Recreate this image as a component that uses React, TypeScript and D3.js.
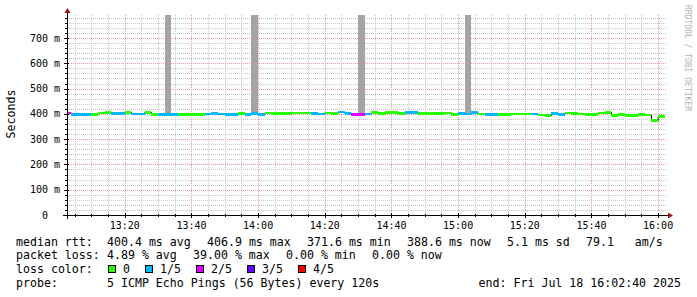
import React from 'react';
import * as d3 from 'd3';

// ---- data (minutes after 13:00; one sample every 2 minutes) ----
const medianMs = [
  403.5, 398, 398, 398, 397, 403, 405.5, 401, 401, 405.5,
  400, 400, 405.5, 397, 398.5, 398.5, 398, 398, 398, 398,
  397, 400, 401, 399, 398, 398.5, 402, 398.5, 401, 398,
  403, 401, 401, 402, 403, 403, 403, 401, 399, 403,
  401, 406.9, 402, 398, 398, 399, 405, 401, 405, 405,
  402, 405, 405, 402, 402, 401, 402, 404, 398, 402,
  400, 405, 400, 398, 398, 398, 397, 400, 400, 400,
  400, 395, 393, 402, 398, 403, 401, 399, 398, 398,
  403, 405, 393, 398, 393, 393, 398, 395, 373, 388.6,
];
const lossCount = [
  2, 1, 1, 1, 0, 0, 0, 1, 1, 0,
  1, 1, 0, 0, 1, 1, 1, 0, 0, 0,
  0, 1, 1, 1, 1, 1, 0, 1, 1, 1,
  0, 0, 0, 0, 0, 0, 0, 1, 1, 0,
  0, 1, 1, 2, 2, 1, 0, 0, 0, 0,
  0, 1, 1, 0, 0, 0, 0, 0, 0, 1,
  1, 1, 0, 1, 1, 0, 0, 0, 0, 0,
  1, 0, 0, 1, 1, 0, 0, 0, 0, 0,
  0, 0, 0, 0, 0, 0, 0, 0, 0, 0,
];
const smokeUp = [
  0, 1, 2, 3, 1, 1, 1, 1, 1, 1,
  2, 1, 1, 1, 1, 500, 1, 1, 1, 1,
  3, 3, 2, 1, 1, 2, 1, 2, 500, 1,
  1, 3, 1, 1, 1, 1, 1, 2, 1, 1,
  2, 1, 1, 2, 500, 1, 1, 1, 1, 1,
  1, 1, 1, 1, 2, 1, 1, 1, 1, 1,
  500, 1, 2, 1, 1, 1, 1, 2, 2, 3,
  1, 2, 1, 1, 1, 1, 2, 2, 1, 1,
  2, 1, 2, 2, 2, 2, 3, 2, 6, 3,
];
const smokeDown = [
  0, 1, 1, 1, 1, 2, 1, 1, 4, 1,
  2, 1, 1, 1, 1, 1, 1, 1, 1, 3,
  3, 1, 1, 1, 1, 1, 1, 2, 2, 1,
  1, 1, 1, 1, 1, 1, 1, 2, 1, 1,
  2, 1, 1, 1, 1, 1, 1, 3, 1, 1,
  1, 1, 1, 1, 1, 1, 1, 1, 1, 1,
  2, 3, 3, 1, 1, 2, 3, 1, 1, 1,
  3, 3, 1, 4, 1, 1, 1, 2, 5, 4,
  2, 1, 3, 6, 4, 3, 4, 3, 4, 4,
];

const yTickValues = [0, 100, 200, 300, 400, 500, 600, 700];
const yTickLabels = ['0', '100 m', '200 m', '300 m', '400 m', '500 m', '600 m', '700 m'];
const xTickMinutes = [20, 40, 60, 80, 100, 120, 140, 160, 180];
const xTickLabels = ['13:20', '13:40', '14:00', '14:20', '14:40', '15:00', '15:20', '15:40', '16:00'];

const lossColors = ['#26ff00', '#00b8ff', '#dd00ff', '#5e00ff', '#ff0000'];
const lossLabels = ['0', '1/5', '2/5', '3/5', '4/5'];

const rttLabels = ['400.4 ms avg', '406.9 ms max', '371.6 ms min', '388.6 ms now', '5.1 ms sd', '79.1   am/s'];
const lossStatLabels = ['4.89 % avg', '39.00 % max', '0.00 % min', '0.00 % now'];

const startMin = 2 + 40 / 60; // 13:02:40
const endMin = startMin + 180; // 16:02:40
const stepMin = 2;
const yMax = 791;

// ---- layout ----
const W = 697;
const H = 297;
const PL = 67;
const PR = 667;
const PT = 15;
const PB = 215;
const MONO = "'DejaVu Sans Mono', monospace";

export default function App() {
  const x = d3.scaleLinear().domain([startMin, endMin]).range([PL, PR]);
  const y = d3.scaleLinear().domain([0, yMax]).range([PB, PT]);

  const minorY = d3.range(20, yMax, 20).filter((v) => v % 100 !== 0);
  const majorY = yTickValues.filter((v) => v > 0);
  const minorX = d3.range(5, 181, 5).filter((m) => m % 20 !== 0);

  const segs = medianMs.map((m, i) => {
    const t0 = Math.max(2 + stepMin * i, startMin);
    const t1 = 2 + stepMin * (i + 1);
    return { x0: x(t0), x1: x(t1), m, loss: lossCount[i], up: smokeUp[i], down: smokeDown[i] };
  });

  const stepLine = d3
    .line<{ t: number; v: number }>()
    .x((d) => x(d.t))
    .y((d) => y(d.v))
    .curve(d3.curveStepAfter);
  const linePts = medianMs.map((v, i) => ({ t: Math.max(2 + stepMin * i, startMin), v }));
  linePts.push({ t: 2 + stepMin * medianMs.length, v: medianMs[medianMs.length - 1] });

  const legendY = [245.5, 259, 273.3, 287.3];

  return (
    <svg
      width={W}
      height={H}
      viewBox={`0 0 ${W} ${H}`}
      style={{ position: 'absolute', left: 0, top: 0, background: '#fff' }}
    >
      <rect x={0} y={0} width={W} height={H} fill="#fff" />
      {/* minor grid */}
      <g stroke="#c6c6c6" strokeWidth={1} strokeDasharray="1,1" shapeRendering="crispEdges">
        {minorY.map((v) => (
          <line key={'my' + v} x1={PL} x2={PR} y1={Math.round(y(v)) + 0.5} y2={Math.round(y(v)) + 0.5} />
        ))}
        {minorX.map((m) => (
          <line key={'mx' + m} x1={Math.round(x(m)) + 0.5} x2={Math.round(x(m)) + 0.5} y1={PT} y2={PB} />
        ))}
      </g>
      {/* major grid */}
      <g stroke="#e89a9a" strokeWidth={1} strokeDasharray="1,1" shapeRendering="crispEdges">
        {majorY.map((v) => (
          <line key={'My' + v} x1={PL} x2={PR} y1={Math.round(y(v)) + 0.5} y2={Math.round(y(v)) + 0.5} />
        ))}
        {xTickMinutes.map((m) => (
          <line key={'Mx' + m} x1={Math.round(x(m)) + 0.5} x2={Math.round(x(m)) + 0.5} y1={PT} y2={PB} />
        ))}
      </g>

      {/* smoke */}
      <g fill="#a4a4a4" shapeRendering="crispEdges">
        {segs.map((s, i) => {
          const top = Math.max(y(s.m + s.up), PT);
          const bot = y(s.m - s.down);
          return <rect key={'s' + i} x={s.x0} y={top} width={s.x1 - s.x0} height={Math.max(bot - top, 0)} />;
        })}
      </g>

      {/* median line */}
      <path d={stepLine(linePts) || ''} fill="none" stroke="#000" strokeWidth={1} />
      <g shapeRendering="crispEdges">
        {segs.map((s, i) => (
          <rect key={'m' + i} x={s.x0} y={y(s.m) - 1.3} width={s.x1 - s.x0} height={2.6} fill={lossColors[s.loss]} />
        ))}
      </g>

      {/* axes */}
      <g stroke="#000" strokeWidth={1} shapeRendering="crispEdges">
        <line x1={PL - 4} x2={PR + 1} y1={PB + 0.5} y2={PB + 0.5} />
        <line x1={PL + 0.5} x2={PL + 0.5} y1={PB + 4} y2={PT - 3} />
        {minorX.map((m) => (
          <line key={'tx' + m} x1={Math.round(x(m)) + 0.5} x2={Math.round(x(m)) + 0.5} y1={PB - 1} y2={PB + 2} />
        ))}
        {xTickMinutes.map((m) => (
          <line key={'TX' + m} x1={Math.round(x(m)) + 0.5} x2={Math.round(x(m)) + 0.5} y1={PB - 2} y2={PB + 3} />
        ))}
        {minorY.map((v) => (
          <line key={'ty' + v} x1={PL - 2} x2={PL + 1} y1={Math.round(y(v)) + 0.5} y2={Math.round(y(v)) + 0.5} />
        ))}
        {majorY.map((v) => (
          <line key={'TY' + v} x1={PL - 3} x2={PL + 2} y1={Math.round(y(v)) + 0.5} y2={Math.round(y(v)) + 0.5} />
        ))}
      </g>
      <path d={`M${PR + 1},${PB - 2.5} L${PR + 6},${PB + 0.5} L${PR + 1},${PB + 3.5} Z`} fill="#a01010" />
      <path d={`M${PL - 2.5},${PT - 2} L${PL + 0.5},${PT - 7} L${PL + 3.5},${PT - 2} Z`} fill="#a01010" />

      {/* axis labels */}
      <g fontFamily={MONO} fontSize={10} fill="#000">
        {yTickValues.map((v, i) => (
          <text key={'yl' + v} x={v === 0 ? 48 : 60} y={y(v) + 3.5} textAnchor="end">
            {yTickLabels[i]}
          </text>
        ))}
        {xTickMinutes.map((m, i) => (
          <text key={'xl' + m} x={x(m)} y={229} textAnchor="middle">
            {xTickLabels[i]}
          </text>
        ))}
      </g>
      <text
        fontFamily={MONO}
        fontSize={11.6}
        textAnchor="middle"
        transform={`translate(15,114) rotate(-90)`}
        fill="#000"
      >
        Seconds
      </text>
      <text
        fontFamily={MONO}
        fontSize={8}
        fill="#b4b4b4"
        transform={`translate(684.5,5) rotate(90)`}
      >
        RRDTOOL / TOBI OETIKER
      </text>

      {/* legend */}
      <g fontFamily={MONO} fontSize={11.6} fill="#000" style={{ whiteSpace: 'pre' }}>
        <text x={16} y={legendY[0]}>median rtt:</text>
        {[107, 207, 307, 407, 507, 586].map((px, i) => (
          <text key={'r' + i} x={px} y={legendY[0]} xmlSpace="preserve">
            {rttLabels[i]}
          </text>
        ))}
        <text x={16} y={legendY[1]}>packet loss:</text>
        {[107, 193, 286, 372].map((px, i) => (
          <text key={'p' + i} x={px} y={legendY[1]}>
            {lossStatLabels[i]}
          </text>
        ))}
        <text x={16} y={legendY[2]}>loss color:</text>
        {[108, 145, 196, 247, 298].map((px, i) => (
          <g key={'lc' + i}>
            <rect x={px + 0.5} y={265.5} width={7} height={7} fill={lossColors[i]} stroke="#000" strokeWidth={1} />
            <text x={px + 15} y={legendY[2]}>{lossLabels[i]}</text>
          </g>
        ))}
        <text x={16} y={legendY[3]}>probe:</text>
        <text x={107} y={legendY[3]}>5 ICMP Echo Pings (56 Bytes) every 120s</text>
        <text x={681} y={legendY[3]} textAnchor="end">end: Fri Jul 18 16:02:40 2025</text>
      </g>
    </svg>
  );
}
